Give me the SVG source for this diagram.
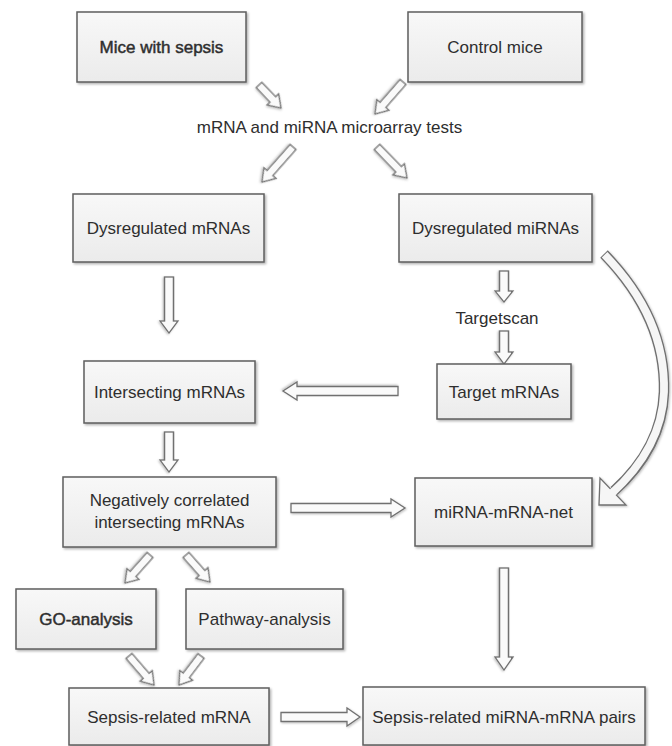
<svg xmlns="http://www.w3.org/2000/svg" width="672" height="746" viewBox="0 0 672 746">
<defs>
<linearGradient id="boxfill" x1="0" y1="0" x2="0" y2="1">
<stop offset="0" stop-color="#f8f8f8"/>
<stop offset="1" stop-color="#ebebeb"/>
</linearGradient>
<filter id="sh" x="-10%" y="-10%" width="130%" height="130%">
<feDropShadow dx="1.5" dy="1.5" stdDeviation="1.2" flood-color="#000" flood-opacity="0.3"/>
</filter>
<filter id="ash" x="-30%" y="-30%" width="160%" height="160%">
<feDropShadow dx="1" dy="1" stdDeviation="1" flood-color="#000" flood-opacity="0.25"/>
</filter>
</defs>
<style>
.box{fill:url(#boxfill);stroke:#5e5e5e;stroke-width:1.5;filter:url(#sh)}
.t{font-family:"Liberation Sans",Arial,sans-serif;font-size:17px;fill:#2e2e2e;text-anchor:middle}
.b{stroke:#2e2e2e;stroke-width:0.45}
.ar{fill:#fafafa;stroke:#707070;stroke-width:1.3;stroke-linejoin:miter;filter:url(#ash)}
</style>
<rect width="672" height="746" fill="#ffffff"/>

<g id="connectors">
<path class="ar" transform="translate(259,85) rotate(46.3)" d="M0,-3.8 H20 V-8 L31.8,0 L20,8 V3.8 H0 Z"/>
<path class="ar" transform="translate(403,82) rotate(131.2)" d="M0,-3.8 H30.5 V-8 L42.5,0 L30.5,8 V3.8 H0 Z"/>
<path class="ar" transform="translate(293,147) rotate(131.5)" d="M0,-3.8 H34.8 V-8 L46.8,0 L34.8,8 V3.8 H0 Z"/>
<path class="ar" transform="translate(377,147) rotate(45.9)" d="M0,-3.8 H31.1 V-8 L43.1,0 L31.1,8 V3.8 H0 Z"/>
<path class="ar" transform="translate(150,555) rotate(131.8)" d="M0,-3.8 H25.5 V-8 L37.5,0 L25.5,8 V3.8 H0 Z"/>
<path class="ar" transform="translate(186,555) rotate(48.4)" d="M0,-3.8 H24.1 V-8 L36.1,0 L24.1,8 V3.8 H0 Z"/>
<path class="ar" transform="translate(129,656) rotate(49.2)" d="M0,-3.8 H26.3 V-8 L38.3,0 L26.3,8 V3.8 H0 Z"/>
<path class="ar" transform="translate(201,656) rotate(127.2)" d="M0,-3.8 H24.4 V-8 L36.4,0 L24.4,8 V3.8 H0 Z"/>
<path class="ar" transform="translate(169,277) rotate(90)" d="M0,-4.5 H44 V-9 L56,0 L44,9 V4.5 H0 Z"/>
<path class="ar" transform="translate(504,271) rotate(90)" d="M0,-4.5 H20 V-9 L31,0 L20,9 V4.5 H0 Z"/>
<path class="ar" transform="translate(504,331) rotate(90)" d="M0,-4.5 H21 V-9 L33,0 L21,9 V4.5 H0 Z"/>
<path class="ar" transform="translate(398,391) rotate(180)" d="M0,-4.5 H101 V-9 L115,0 L101,9 V4.5 H0 Z"/>
<path class="ar" transform="translate(169,432) rotate(90)" d="M0,-4.5 H28 V-9 L40,0 L28,9 V4.5 H0 Z"/>
<path class="ar" transform="translate(291,508)" d="M0,-4.5 H100 V-9 L114,0 L100,9 V4.5 H0 Z"/>
<path class="ar" transform="translate(504,568) rotate(90)" d="M0,-4.5 H89 V-9 L102,0 L89,9 V4.5 H0 Z"/>
<path class="ar" transform="translate(281,717)" d="M0,-4.5 H66 V-9 L79,0 L66,9 V4.5 H0 Z"/>
<g filter="url(#ash)">
<path d="M604,254 Q666,318 664,392 Q662,448 614,491" fill="none" stroke="#707070" stroke-width="10.5"/>
<path d="M626,505 L599,505 L600,478 Z" fill="#f6f6f6" stroke="#707070" stroke-width="1.3" stroke-linejoin="miter"/>
<path d="M604.6,254.7 Q666,318 664,392 Q662,448 611,494" fill="none" stroke="#f6f6f6" stroke-width="7.8"/>
</g>
</g>

<g id="n-mice"><rect class="box" x="77" y="12" width="169" height="70"/><text class="t b" x="161.5" y="53">Mice with sepsis</text></g>
<g id="n-control"><rect class="box" x="408" y="12" width="174" height="70"/><text class="t" x="495" y="53">Control mice</text></g>
<g id="n-tests"><text class="t" x="329.5" y="133">mRNA and miRNA microarray tests</text></g>
<g id="n-dysmrna"><rect class="box" x="73" y="194" width="191" height="68"/><text class="t" x="168.5" y="234">Dysregulated mRNAs</text></g>
<g id="n-dysmirna"><rect class="box" x="399" y="194" width="193" height="68"/><text class="t" x="495.5" y="234">Dysregulated miRNAs</text></g>
<g id="n-targetscan"><text class="t" x="497" y="324">Targetscan</text></g>
<g id="n-target"><rect class="box" x="437" y="364" width="134" height="55"/><text class="t" x="504" y="397.5">Target mRNAs</text></g>
<g id="n-intersect"><rect class="box" x="84" y="361" width="171" height="62"/><text class="t" x="169.5" y="398">Intersecting mRNAs</text></g>
<g id="n-neg"><rect class="box" x="63" y="477" width="213" height="70"/><text class="t" x="169.5" y="506">Negatively correlated</text><text class="t" x="169.5" y="528">intersecting mRNAs</text></g>
<g id="n-net"><rect class="box" x="415" y="478" width="177" height="68"/><text class="t" x="503.5" y="518">miRNA-mRNA-net</text></g>
<g id="n-go"><rect class="box" x="16" y="589" width="140" height="60"/><text class="t b" x="86" y="625">GO-analysis</text></g>
<g id="n-pathway"><rect class="box" x="186" y="589" width="157" height="60"/><text class="t" x="264.5" y="625">Pathway-analysis</text></g>
<g id="n-sepsismrna"><rect class="box" x="69" y="688" width="200" height="57"/><text class="t" x="169" y="723">Sepsis-related mRNA</text></g>
<g id="n-pairs"><rect class="box" x="363" y="687" width="282" height="58"/><text class="t" x="504" y="723">Sepsis-related miRNA-mRNA pairs</text></g>
</svg>
